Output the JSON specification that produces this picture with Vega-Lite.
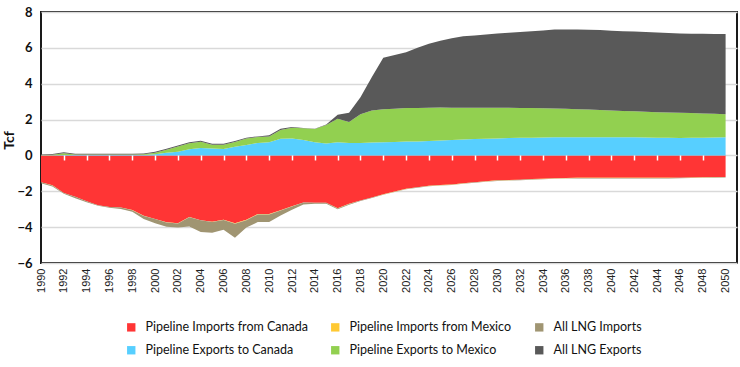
{
  "$schema": "https://vega.github.io/schema/vega-lite/v6.json",
  "width": 696,
  "height": 251,
  "autosize": "none",
  "padding": {"left": 41, "top": 12, "right": 3, "bottom": 104},
  "background": "white",
  "config": {
    "view": {"stroke": "#1a1a1a", "strokeWidth": 2},
    "font": "Lato"
  },
  "data": {"values": [
    {"year": 1990, "ic": -1.49, "im": -0.005, "li": -0.06, "ec": 0.01, "em": 0.01, "le": 0.03},
    {"year": 1991, "ic": -1.67, "im": -0.005, "li": -0.06, "ec": 0.01, "em": 0.03, "le": 0.04},
    {"year": 1992, "ic": -2.09, "im": -0.005, "li": -0.04, "ec": 0.02, "em": 0.10, "le": 0.06},
    {"year": 1993, "ic": -2.30, "im": -0.005, "li": -0.08, "ec": 0.02, "em": 0.03, "le": 0.05},
    {"year": 1994, "ic": -2.55, "im": -0.005, "li": -0.05, "ec": 0.02, "em": 0.03, "le": 0.05},
    {"year": 1995, "ic": -2.78, "im": -0.005, "li": -0.02, "ec": 0.02, "em": 0.03, "le": 0.05},
    {"year": 1996, "ic": -2.87, "im": -0.005, "li": -0.04, "ec": 0.02, "em": 0.03, "le": 0.05},
    {"year": 1997, "ic": -2.90, "im": -0.005, "li": -0.08, "ec": 0.02, "em": 0.03, "le": 0.05},
    {"year": 1998, "ic": -3.05, "im": -0.005, "li": -0.09, "ec": 0.02, "em": 0.03, "le": 0.05},
    {"year": 1999, "ic": -3.37, "im": -0.01, "li": -0.16, "ec": 0.03, "em": 0.03, "le": 0.05},
    {"year": 2000, "ic": -3.54, "im": -0.01, "li": -0.23, "ec": 0.07, "em": 0.08, "le": 0.05},
    {"year": 2001, "ic": -3.73, "im": -0.01, "li": -0.24, "ec": 0.15, "em": 0.16, "le": 0.06},
    {"year": 2002, "ic": -3.78, "im": -0.01, "li": -0.23, "ec": 0.20, "em": 0.30, "le": 0.06},
    {"year": 2003, "ic": -3.44, "im": -0.01, "li": -0.51, "ec": 0.34, "em": 0.34, "le": 0.06},
    {"year": 2004, "ic": -3.61, "im": -0.01, "li": -0.65, "ec": 0.42, "em": 0.34, "le": 0.06},
    {"year": 2005, "ic": -3.70, "im": -0.01, "li": -0.60, "ec": 0.38, "em": 0.21, "le": 0.06},
    {"year": 2006, "ic": -3.59, "im": -0.01, "li": -0.55, "ec": 0.36, "em": 0.23, "le": 0.06},
    {"year": 2007, "ic": -3.78, "im": -0.03, "li": -0.78, "ec": 0.48, "em": 0.27, "le": 0.05},
    {"year": 2008, "ic": -3.59, "im": -0.03, "li": -0.40, "ec": 0.58, "em": 0.37, "le": 0.04},
    {"year": 2009, "ic": -3.27, "im": -0.02, "li": -0.43, "ec": 0.70, "em": 0.33, "le": 0.03},
    {"year": 2010, "ic": -3.27, "im": -0.02, "li": -0.43, "ec": 0.73, "em": 0.33, "le": 0.06},
    {"year": 2011, "ic": -3.06, "im": -0.01, "li": -0.28, "ec": 0.93, "em": 0.49, "le": 0.07},
    {"year": 2012, "ic": -2.84, "im": -0.005, "li": -0.19, "ec": 0.95, "em": 0.60, "le": 0.03},
    {"year": 2013, "ic": -2.62, "im": -0.005, "li": -0.11, "ec": 0.86, "em": 0.66, "le": 0.01},
    {"year": 2014, "ic": -2.64, "im": -0.005, "li": -0.05, "ec": 0.74, "em": 0.73, "le": 0.02},
    {"year": 2015, "ic": -2.64, "im": -0.005, "li": -0.05, "ec": 0.66, "em": 1.04, "le": 0.03},
    {"year": 2016, "ic": -2.95, "im": -0.005, "li": -0.05, "ec": 0.74, "em": 1.31, "le": 0.22},
    {"year": 2017, "ic": -2.70, "im": -0.005, "li": -0.04, "ec": 0.69, "em": 1.17, "le": 0.52},
    {"year": 2018, "ic": -2.51, "im": -0.005, "li": -0.03, "ec": 0.69, "em": 1.60, "le": 0.96},
    {"year": 2019, "ic": -2.34, "im": -0.005, "li": -0.03, "ec": 0.72, "em": 1.79, "le": 1.86},
    {"year": 2020, "ic": -2.17, "im": -0.01, "li": -0.02, "ec": 0.74, "em": 1.84, "le": 2.87},
    {"year": 2021, "ic": -2.01, "im": -0.01, "li": -0.02, "ec": 0.75, "em": 1.86, "le": 2.99},
    {"year": 2022, "ic": -1.86, "im": -0.01, "li": -0.02, "ec": 0.77, "em": 1.87, "le": 3.12},
    {"year": 2023, "ic": -1.77, "im": -0.01, "li": -0.02, "ec": 0.78, "em": 1.87, "le": 3.35},
    {"year": 2024, "ic": -1.69, "im": -0.01, "li": -0.02, "ec": 0.80, "em": 1.86, "le": 3.57},
    {"year": 2025, "ic": -1.65, "im": -0.01, "li": -0.02, "ec": 0.83, "em": 1.84, "le": 3.72},
    {"year": 2026, "ic": -1.62, "im": -0.01, "li": -0.02, "ec": 0.86, "em": 1.80, "le": 3.88},
    {"year": 2027, "ic": -1.55, "im": -0.01, "li": -0.02, "ec": 0.89, "em": 1.77, "le": 3.99},
    {"year": 2028, "ic": -1.49, "im": -0.01, "li": -0.02, "ec": 0.91, "em": 1.75, "le": 4.03},
    {"year": 2029, "ic": -1.44, "im": -0.01, "li": -0.02, "ec": 0.93, "em": 1.73, "le": 4.08},
    {"year": 2030, "ic": -1.39, "im": -0.01, "li": -0.02, "ec": 0.95, "em": 1.71, "le": 4.14},
    {"year": 2031, "ic": -1.37, "im": -0.01, "li": -0.02, "ec": 0.97, "em": 1.69, "le": 4.18},
    {"year": 2032, "ic": -1.35, "im": -0.01, "li": -0.02, "ec": 0.98, "em": 1.67, "le": 4.23},
    {"year": 2033, "ic": -1.32, "im": -0.01, "li": -0.02, "ec": 0.99, "em": 1.65, "le": 4.29},
    {"year": 2034, "ic": -1.30, "im": -0.01, "li": -0.02, "ec": 1.00, "em": 1.63, "le": 4.34},
    {"year": 2035, "ic": -1.27, "im": -0.01, "li": -0.02, "ec": 1.01, "em": 1.61, "le": 4.41},
    {"year": 2036, "ic": -1.26, "im": -0.01, "li": -0.02, "ec": 1.02, "em": 1.58, "le": 4.43},
    {"year": 2037, "ic": -1.25, "im": -0.01, "li": -0.02, "ec": 1.02, "em": 1.56, "le": 4.44},
    {"year": 2038, "ic": -1.25, "im": -0.01, "li": -0.02, "ec": 1.02, "em": 1.54, "le": 4.45},
    {"year": 2039, "ic": -1.25, "im": -0.01, "li": -0.02, "ec": 1.02, "em": 1.52, "le": 4.45},
    {"year": 2040, "ic": -1.25, "im": -0.01, "li": -0.02, "ec": 1.02, "em": 1.49, "le": 4.44},
    {"year": 2041, "ic": -1.25, "im": -0.01, "li": -0.02, "ec": 1.01, "em": 1.47, "le": 4.45},
    {"year": 2042, "ic": -1.25, "im": -0.01, "li": -0.02, "ec": 1.01, "em": 1.45, "le": 4.45},
    {"year": 2043, "ic": -1.25, "im": -0.01, "li": -0.02, "ec": 1.00, "em": 1.43, "le": 4.45},
    {"year": 2044, "ic": -1.25, "im": -0.01, "li": -0.02, "ec": 0.99, "em": 1.42, "le": 4.45},
    {"year": 2045, "ic": -1.25, "im": -0.01, "li": -0.02, "ec": 0.98, "em": 1.41, "le": 4.44},
    {"year": 2046, "ic": -1.24, "im": -0.01, "li": -0.02, "ec": 0.97, "em": 1.41, "le": 4.42},
    {"year": 2047, "ic": -1.23, "im": -0.01, "li": -0.02, "ec": 0.98, "em": 1.38, "le": 4.43},
    {"year": 2048, "ic": -1.22, "im": -0.01, "li": -0.02, "ec": 0.99, "em": 1.35, "le": 4.44},
    {"year": 2049, "ic": -1.21, "im": -0.01, "li": -0.02, "ec": 1.00, "em": 1.32, "le": 4.45},
    {"year": 2050, "ic": -1.20, "im": -0.01, "li": -0.02, "ec": 1.02, "em": 1.28, "le": 4.47}
  ]},
  "transform": [
    {"fold": ["ic", "im", "li", "ec", "em", "le"], "as": ["key", "value"]},
    {"lookup": "key", "from": {"data": {"values": [
      {"key": "ic", "series": "Pipeline Imports from Canada", "k": 1},
      {"key": "im", "series": "Pipeline Imports from Mexico", "k": 2},
      {"key": "li", "series": "All LNG Imports", "k": 3},
      {"key": "ec", "series": "Pipeline Exports to Canada", "k": 4},
      {"key": "em", "series": "Pipeline Exports to Mexico", "k": 5},
      {"key": "le", "series": "All LNG Exports", "k": 6}
    ]}, "key": "key", "fields": ["series", "k"]}}
  ],
  "layer": [
    {
      "mark": {"type": "area", "interpolate": "linear"},
      "encoding": {
        "x": {
          "field": "year", "type": "quantitative",
          "scale": {"domain": [1990, 2051], "nice": false, "zero": false},
          "axis": {
            "values": [1990,1992,1994,1996,1998,2000,2002,2004,2006,2008,2010,2012,2014,2016,2018,2020,2022,2024,2026,2028,2030,2032,2034,2036,2038,2040,2042,2044,2046,2048,2050],
            "format": "d", "title": null, "grid": false, "ticks": false, "domain": false,
            "labelAngle": -90, "labelFont": "Liberation Sans", "labelFontSize": 11,
            "labelColor": "#222222", "labelPadding": 5, "labelOverlap": false, "labelFlush": false
          }
        },
        "y": {
          "field": "value", "type": "quantitative", "stack": "zero",
          "scale": {"domain": [-6, 8], "nice": false},
          "axis": {
            "values": [-6, -4, -2, 0, 2, 4, 6, 8], "title": "Tcf",
            "titleFont": "Lato", "titleFontSize": 14, "titleFontWeight": "bold", "titleColor": "#111111",
            "titleX": -32, "titleY": 128, "titleBaseline": "middle", "titleAlign": "center", "titleAngle": -90,
            "grid": true, "gridColor": "#d9d9d9", "gridWidth": 1.5,
            "ticks": false, "domain": false,
            "labelFont": "Lato", "labelFontSize": 13, "labelFontWeight": "bold", "labelColor": "#111111", "labelPadding": 9
          }
        },
        "color": {
          "field": "series", "type": "nominal",
          "scale": {
            "domain": ["Pipeline Imports from Canada", "Pipeline Imports from Mexico", "All LNG Imports", "Pipeline Exports to Canada", "Pipeline Exports to Mexico", "All LNG Exports"],
            "range": ["#ff3535", "#ffc933", "#a09572", "#57cfff", "#92d050", "#595959"]
          },
          "legend": {
            "orient": "none", "legendX": 84, "legendY": 309, "direction": "horizontal", "columns": 3, "padding": 0,
            "title": null, "symbolType": "square", "symbolSize": 70, "symbolStrokeWidth": 0,
            "labelFont": "Lato", "labelFontSize": 12.5, "labelColor": "#111111", "labelOffset": 8,
            "rowPadding": 10, "columnPadding": 21, "gridAlign": "all", "labelLimit": 300
          }
        },
        "order": {"field": "k", "type": "quantitative"}
      }
    },
    {
      "mark": {"type": "rule", "opacity": 0},
      "encoding": {
        "x": {
          "field": "year", "type": "quantitative",
          "axis": {
            "orient": "top", "offset": -143, "values": [1992,1994,1996,1998,2000,2002,2004,2006,2008,2010,2012,2014,2016,2018,2020,2022,2024,2026,2028,2030,2032,2034,2036,2038,2040,2042,2044,2046,2048],
            "title": null, "labels": false, "domain": false, "grid": false,
            "ticks": true, "tickSize": -5, "tickColor": "#ffffff", "tickWidth": 1.5, "zindex": 2
          }
        }
      }
    }
  ],
  "resolve": {"axis": {"x": "independent"}}
}
